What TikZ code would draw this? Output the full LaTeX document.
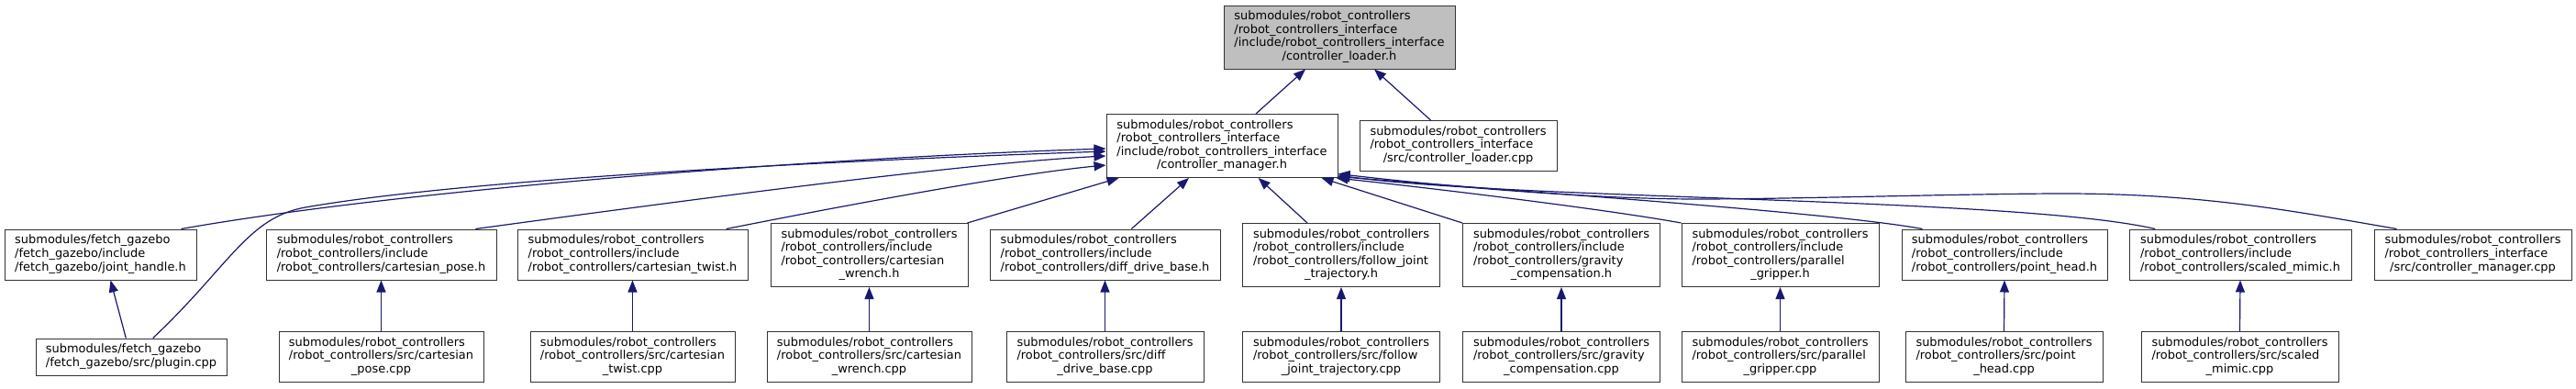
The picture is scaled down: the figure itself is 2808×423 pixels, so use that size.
\documentclass[tikz,border=0pt]{standalone}
\usepackage{fontspec}
\setmainfont{DejaVu Sans}
\usetikzlibrary{arrows.meta}
\definecolor{edgecol}{HTML}{191970}
\definecolor{nodeborder}{HTML}{333333}
\definecolor{focusfill}{HTML}{BFBFBF}
\newcommand\dlab[2]{\begin{tabular}{@{}l@{}}#1\\\multicolumn{1}{@{}c@{}}{#2}\end{tabular}}
\begin{document}
\begin{tikzpicture}[x=1pt,y=-1pt,
  file/.style={draw=nodeborder, line width=1pt, fill=white, inner sep=0pt, font=\fontsize{12.95}{14.6}\selectfont},
  dims/.style 2 args={minimum width=#1pt, minimum height=#2pt},
  focus/.style={fill=focusfill},
  dep/.style={draw=edgecol, line width=1.2pt, {Triangle[length=13pt,width=10pt]}-}]
\useasboundingbox (0,0) rectangle (2808,423);

% top rows
\node[file, focus, dims={252}{69}] (top) at (1460,40.5) {\dlab{submodules/robot\_controllers\\/robot\_controllers\_interface\\/include/robot\_controllers\_interface}{/controller\_loader.h}};
\node[file, dims={252}{69}] (cmh) at (1332,159) {\dlab{submodules/robot\_controllers\\/robot\_controllers\_interface\\/include/robot\_controllers\_interface}{/controller\_manager.h}};
\node[file, dims={215}{55}] (lcpp) at (1589.5,159) {\dlab{submodules/robot\_controllers\\/robot\_controllers\_interface}{/src/controller\_loader.cpp}};

% row 2
\node[file, dims={209}{55}] (jh) at (109.5,277.5) {\dlab{submodules/fetch\_gazebo\\/fetch\_gazebo/include}{/fetch\_gazebo/joint\_handle.h}};
\node[file, dims={251}{55}] (poseh) at (415.5,277.5) {\dlab{submodules/robot\_controllers\\/robot\_controllers/include}{/robot\_controllers/cartesian\_pose.h}};
\node[file, dims={251}{55}] (twisth) at (689.5,277.5) {\dlab{submodules/robot\_controllers\\/robot\_controllers/include}{/robot\_controllers/cartesian\_twist.h}};
\node[file, dims={215}{69}] (wrenchh) at (947.5,278) {\dlab{submodules/robot\_controllers\\/robot\_controllers/include\\/robot\_controllers/cartesian}{\_wrench.h}};
\node[file, dims={251}{55}] (ddbh) at (1204.5,277.5) {\dlab{submodules/robot\_controllers\\/robot\_controllers/include}{/robot\_controllers/diff\_drive\_base.h}};
\node[file, dims={215}{69}] (followh) at (1462,278) {\dlab{submodules/robot\_controllers\\/robot\_controllers/include\\/robot\_controllers/follow\_joint}{\_trajectory.h}};
\node[file, dims={215}{69}] (gravh) at (1702,278) {\dlab{submodules/robot\_controllers\\/robot\_controllers/include\\/robot\_controllers/gravity}{\_compensation.h}};
\node[file, dims={215}{69}] (parh) at (1940.5,278) {\dlab{submodules/robot\_controllers\\/robot\_controllers/include\\/robot\_controllers/parallel}{\_gripper.h}};
\node[file, dims={224}{55}] (phh) at (2185,277.5) {\dlab{submodules/robot\_controllers\\/robot\_controllers/include}{/robot\_controllers/point\_head.h}};
\node[file, dims={242}{55}] (smh) at (2442,277.5) {\dlab{submodules/robot\_controllers\\/robot\_controllers/include}{/robot\_controllers/scaled\_mimic.h}};
\node[file, dims={215}{55}] (cmcpp) at (2695.5,277.5) {\dlab{submodules/robot\_controllers\\/robot\_controllers\_interface}{/src/controller\_manager.cpp}};

% row 3
\node[file, dims={208}{40}] (plugin) at (143,389) {\dlab{submodules/fetch\_gazebo}{/fetch\_gazebo/src/plugin.cpp}};
\node[file, dims={223}{55}] (posecpp) at (415.5,389) {\dlab{submodules/robot\_controllers\\/robot\_controllers/src/cartesian}{\_pose.cpp}};
\node[file, dims={223}{55}] (twistcpp) at (689.5,389) {\dlab{submodules/robot\_controllers\\/robot\_controllers/src/cartesian}{\_twist.cpp}};
\node[file, dims={223}{55}] (wrenchcpp) at (947.5,389) {\dlab{submodules/robot\_controllers\\/robot\_controllers/src/cartesian}{\_wrench.cpp}};
\node[file, dims={215}{55}] (ddbcpp) at (1204.5,389) {\dlab{submodules/robot\_controllers\\/robot\_controllers/src/diff}{\_drive\_base.cpp}};
\node[file, dims={215}{55}] (followcpp) at (1462,389) {\dlab{submodules/robot\_controllers\\/robot\_controllers/src/follow}{\_joint\_trajectory.cpp}};
\node[file, dims={215}{55}] (gravcpp) at (1702,389) {\dlab{submodules/robot\_controllers\\/robot\_controllers/src/gravity}{\_compensation.cpp}};
\node[file, dims={215}{55}] (parcpp) at (1940.5,389) {\dlab{submodules/robot\_controllers\\/robot\_controllers/src/parallel}{\_gripper.cpp}};
\node[file, dims={215}{55}] (phcpp) at (2184.5,389) {\dlab{submodules/robot\_controllers\\/robot\_controllers/src/point}{\_head.cpp}};
\node[file, dims={215}{55}] (smcpp) at (2441.5,389) {\dlab{submodules/robot\_controllers\\/robot\_controllers/src/scaled}{\_mimic.cpp}};

% edges to controller_loader.h
\draw[dep] ([xshift=-37pt]top.south) -- ([xshift=37pt]cmh.north);
\draw[dep] ([xshift=38pt]top.south) -- ([xshift=-30pt]lcpp.north);

% edges to controller_manager.h, left side
\draw[dep] ([yshift=-3pt]cmh.west) .. controls (900,172) and (450,205) .. ([xshift=88pt]jh.north);
\draw[dep] ([yshift=-6pt]cmh.west) .. controls (1000,172) and (533,191) .. (333,226) .. controls (270,237) and (250,290) .. ([xshift=23.7pt]plugin.north);
\draw[dep] ([yshift=-11pt]cmh.west) .. controls (1050,178) and (750,218) .. ([xshift=102.8pt]poseh.north);
\draw[dep] ([yshift=-21pt]cmh.west) .. controls (1100,190) and (900,228) .. ([xshift=102.2pt]twisth.north);
\draw[dep] ([xshift=14pt]cmh.south west) -- ([xshift=-1pt]wrenchh.north east);
% below
\draw[dep] ([xshift=-36pt]cmh.south) -- ([xshift=28.8pt]ddbh.north);
\draw[dep] ([xshift=39.7pt]cmh.south) -- ([xshift=-37pt]followh.north);
\draw[dep] ([xshift=-18pt]cmh.south east) -- (gravh.north west);
% right bundle
\draw[dep] ([xshift=-2pt]cmh.south east) .. controls (1560,205) and (1750,228) .. (parh.north west);
\draw[dep] ([yshift=1.5pt]cmh.south east) .. controls (1700,212) and (2000,232) .. ([xshift=23pt]phh.north west);
\draw[dep] ([yshift=3pt]cmh.south east) .. controls (1650,218) and (2200,215) .. ([xshift=28.7pt]smh.north west);
\draw[dep] ([yshift=4.5pt]cmh.south east) .. controls (1600,206) and (1750,217) .. (1850,217) .. controls (1950,217) and (2150,211) .. (2250,211) .. controls (2400,211) and (2500,230) .. ([xshift=25pt]cmcpp.north west);

% vertical edges row 3 -> row 2
\draw[dep] ([xshift=11pt]jh.south) -- ([xshift=-5.7pt]plugin.north);
\draw[dep] (poseh.south) -- (posecpp.north);
\draw[dep] (twisth.south) -- (twistcpp.north);
\draw[dep] (wrenchh.south) -- (wrenchcpp.north);
\draw[dep] (ddbh.south) -- (ddbcpp.north);
\draw[dep] (followh.south) -- (followcpp.north);
\draw[dep] (gravh.south) -- (gravcpp.north);
\draw[dep] (parh.south) -- (parcpp.north);
\draw[dep] (phh.south) -- (phcpp.north);
\draw[dep] (smh.south) -- (smcpp.north);
\end{tikzpicture}
\end{document}
